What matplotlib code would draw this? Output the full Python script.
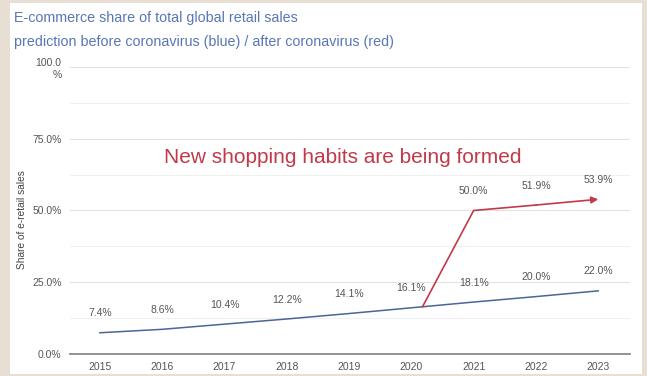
import matplotlib
matplotlib.use("Agg")
import matplotlib.pyplot as plt
from matplotlib.patches import Rectangle
from matplotlib.ticker import FixedLocator

# ---- data ----
years = [2015, 2016, 2017, 2018, 2019, 2020, 2021, 2022, 2023]
before_covid = [7.4, 8.6, 10.4, 12.2, 14.1, 16.1, 18.1, 20.0, 22.0]

# red branch leaves the blue line just after 2020
after_years = [2020.18, 2021, 2022, 2023]
after_covid = [16.5, 50.0, 51.9, 53.9]
after_labels = ["50.0%", "51.9%", "53.9%"]

y_ticks = [0, 25, 50, 75, 100]
y_tick_labels = ["0.0%", "25.0%", "50.0%", "75.0%", "100.0\n%"]

BLUE = "#4a6598"
RED = "#c23a4a"
TITLE_BLUE = "#5876b6"
LABEL_GREY = "#555555"

plt.rcParams["font.family"] = ["Liberation Sans", "DejaVu Sans"]

fig = plt.figure(figsize=(6.47, 3.76), dpi=100)
fig.patch.set_facecolor("#e7dfd4")

# white card behind the chart
fig.patches.append(Rectangle((10 / 647, 2 / 376), 632 / 647, 371 / 376,
                             transform=fig.transFigure, facecolor="white",
                             edgecolor="none", zorder=-10))

ax = fig.add_axes([70 / 647, 22 / 376, 560 / 647, 287 / 376])
ax.set_facecolor("none")

ax.plot(years, before_covid, color=BLUE, lw=1.1, zorder=3)
ax.plot(after_years[:-1], after_covid[:-1], color=RED, lw=1.2, zorder=4)
ax.annotate("", xy=(after_years[-1], after_covid[-1]),
            xytext=(after_years[-2], after_covid[-2]),
            arrowprops=dict(arrowstyle="-|>", color=RED, lw=1.2,
                            mutation_scale=10, shrinkA=0, shrinkB=0),
            zorder=4)

for x, v in zip(years, before_covid):
    ax.annotate(f"{v:.1f}%", (x, v), xytext=(0, 14), textcoords="offset points",
                ha="center", va="center", fontsize=7.5, color=LABEL_GREY)
for x, v, s in zip(after_years[1:], after_covid[1:], after_labels):
    ax.annotate(s, (x, v), xytext=(0, 14), textcoords="offset points",
                ha="center", va="center", fontsize=7.5, color=LABEL_GREY)

ax.text(2018.9, 68.4, "New shopping habits are being formed", color=RED,
        fontsize=15, ha="center", va="center")

ax.set_xlim(2014.52, 2023.51)
ax.set_ylim(0, 100)
ax.set_xticks(years)
ax.set_xticklabels([str(y) for y in years], fontsize=7.5, color=LABEL_GREY)
ax.set_yticks(y_ticks)
ax.set_yticklabels(y_tick_labels, fontsize=7.5, color=LABEL_GREY)
ax.yaxis.set_minor_locator(FixedLocator([12.5, 37.5, 62.5, 87.5]))
ax.tick_params(axis="both", length=0, pad=6)
ax.tick_params(axis="y", which="minor", length=0)

ax.grid(axis="y", which="major", color="#e2e2e2", lw=0.8)
ax.grid(axis="y", which="minor", color="#f0f0f0", lw=0.8)
ax.set_axisbelow(True)

for side in ["top", "right", "left"]:
    ax.spines[side].set_visible(False)
ax.spines["bottom"].set_color("#8a8a8a")
ax.spines["bottom"].set_linewidth(1.3)

ax.set_ylabel("Share of e-retail sales", fontsize=7.3, color="#444444")
ax.yaxis.set_label_coords(-0.077, 0.467)

fig.text(14 / 647, 1 - 18 / 376, "E-commerce share of total global retail sales",
         fontsize=10.3, color=TITLE_BLUE, va="center", ha="left")
fig.text(14 / 647, 1 - 42 / 376,
         "prediction before coronavirus (blue) / after coronavirus (red)",
         fontsize=10.3, color=TITLE_BLUE, va="center", ha="left")

fig.savefig("out.png", dpi=100, facecolor=fig.get_facecolor())
